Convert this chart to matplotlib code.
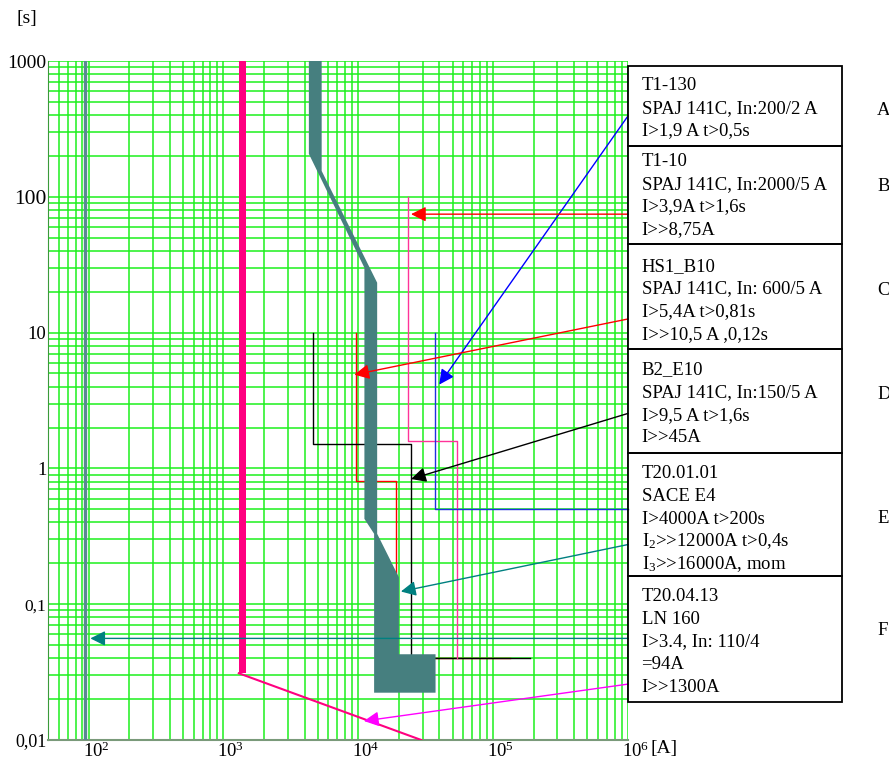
import matplotlib.pyplot as plt
import matplotlib.transforms as mtransforms
from matplotlib.patches import Rectangle
from matplotlib.ticker import LogLocator, NullFormatter, FixedLocator

plt.rcParams['font.family'] = 'Liberation Serif'
plt.rcParams['mathtext.fontset'] = 'custom'
plt.rcParams['mathtext.rm'] = 'Liberation Serif'
plt.rcParams['mathtext.it'] = 'Liberation Serif:italic'

# --- selectivity curves (current in A, time in s) ---
# A  T1-130
a_I = [37000, 37000, 1e6]
a_t = [10, 0.5, 0.5]
# B  T1-10
b_I = [23200, 23200, 53500, 53500]
b_t = [100, 1.6, 1.6, 0.04]
# C  HS1_B10
c_I = [9600, 9600, 18900, 18900, 134000]
c_t = [10, 0.81, 0.81, 0.04, 0.04]
# D  B2_E10
d_I = [4640, 4640, 24600, 24600, 188000]
d_t = [10, 1.5, 1.5, 0.04, 0.04]
# E  T20.01.01 SACE E4 tolerance band
e_I = [4300, 4300, 11100, 11100, 13100, 13100, 37400, 37400,
       20000, 20000, 13800, 13800, 5350, 5350]
e_t = [1000, 207, 30, 0.425, 0.33, 0.0223, 0.0223, 0.0428,
       0.0428, 0.158, 0.33, 23.3, 155, 1000]
# F  T20.04.13 LN 160
f_I1 = 94
f_I2 = 1300
f_t2 = 0.031
f_tail_I = [1300, 29300]
f_tail_t = [0.031, 0.01]

# pointers from the legend boxes: (I start, t start, I tip, t tip, colour)
arrows = [
    (1e6, 394, 39800, 4.14, '#0000ff'),
    (1e6, 74.5, 24600, 74.5, '#ff0000'),
    (1e6, 12.6, 9340, 4.9, '#ff0000'),
    (1e6, 2.54, 24600, 0.835, '#000000'),
    (1e6, 0.275, 20700, 0.124, '#008080'),
    (1e6, 0.056, 103, 0.056, '#008080'),
    (1e6, 0.0258, 11000, 0.0138, '#ff00ff'),
]

y_ticks = [1000, 100, 10, 1, 0.1, 0.01]
y_labels = ['1000', '100', '10', '1', '0,1', '0,01']
y_sizes = [14, 15.5, 13.5, 13.5, 12.5, 13]
x_ticks = [1e2, 1e3, 1e4, 1e5, 1e6]
x_labels = ['$10^{2}$', '$10^{3}$', '$10^{4}$', '$10^{5}$', '$10^{6}$']

letters = ['A', 'B', 'C', 'D', 'E', 'F']
box_text = [
    ['T1-130', 'SPAJ 141C, In:200/2 A', 'I>1,9 A t>0,5s'],
    ['T1-10', 'SPAJ 141C, In:2000/5 A', 'I>3,9A t>1,6s', 'I>>8,75A'],
    ['HS1_B10', 'SPAJ 141C, In: 600/5 A', 'I>5,4A t>0,81s', 'I>>10,5 A ,0,12s'],
    ['B2_E10', 'SPAJ 141C, In:150/5 A', 'I>9,5 A t>1,6s', 'I>>45A'],
    ['T20.01.01', 'SACE E4', 'I>4000A t>200s', 'I$_2$>>12000A t>0,4s',
     'I$_3$>>16000A, mom'],
    ['T20.04.13', 'LN 160', 'I>3.4, In: 110/4', '=94A', 'I>>1300A'],
]

W, H = 889, 761
fig = plt.figure(figsize=(W / 100, H / 100), dpi=100)
ax = fig.add_axes([48 / W, 1 - 740 / H, 580 / W, 679 / H])
ax.set_xscale('log')
ax.set_yscale('log')
ax.set_xlim(50, 1e6)
ax.set_ylim(0.01, 1000)

# green log paper
ax.xaxis.set_major_locator(FixedLocator(x_ticks))
ax.xaxis.set_minor_locator(LogLocator(base=10, subs=range(1, 10), numticks=30))
ax.yaxis.set_major_locator(FixedLocator(y_ticks))
ax.yaxis.set_minor_locator(LogLocator(base=10, subs=range(1, 10), numticks=30))
ax.xaxis.set_minor_formatter(NullFormatter())
ax.yaxis.set_minor_formatter(NullFormatter())
ax.grid(which='both', color='#1cf01c', lw=1.1, zorder=0)
ax.set_axisbelow(True)
ax.tick_params(which='both', length=0)
ax.set_xticklabels(x_labels, fontsize=13.5, ha='left')
ax.set_yticklabels(y_labels)
for lab, s in zip(ax.get_yticklabels(), y_sizes):
    lab.set_fontsize(s)
ax.tick_params(axis='y', pad=1)
ax.tick_params(axis='x', pad=1)
off = mtransforms.ScaledTranslation(-6 / 100, 0, fig.dpi_scale_trans)
for lab in ax.get_xticklabels():
    lab.set_transform(lab.get_transform() + off)

for side in ['top', 'right']:
    ax.spines[side].set_visible(False)
ax.spines['left'].set_color('#3a9a3a')
ax.spines['bottom'].set_color('#7a9a7a')
ax.spines['bottom'].set_linewidth(1.5)

# relay curves
ax.plot(c_I, c_t, color='#ff0000', lw=1.0, zorder=3)
ax.plot(d_I, d_t, color='#000000', lw=1.0, zorder=3)
ax.plot(b_I, b_t, color='#ff3399', lw=1.0, zorder=3)
ax.plot(a_I, a_t, color='#2030e0', lw=1.0, zorder=3, clip_on=False)

# breaker band
ax.fill(e_I, e_t, color='#467f7f', lw=0, zorder=4)

# fuse
ax.axvline(f_I1, color='#5a8a92', lw=2.4, zorder=4)
ax.fill_betweenx([f_t2, 1000], f_I2, f_I2 * 1.13, color='#ff0080', lw=0, zorder=4)
ax.plot(f_tail_I, f_tail_t, color='#ff0080', lw=1.5, zorder=4)

for x0, y0, x1, y1, col in arrows:
    ax.annotate('', xy=(x1, y1), xytext=(x0, y0),
                arrowprops=dict(arrowstyle='-|>,head_length=0.9,head_width=0.45',
                                color=col, lw=1.0, shrinkA=0, shrinkB=0,
                                mutation_scale=10),
                zorder=6, annotation_clip=False)

# legend boxes on the right
box_top = [65.7, 145.7, 244, 349, 453.3, 576, 701.7]
first_base = [90, 166, 270.7, 374.3, 478.3, 601]
letter_base = [115, 190.7, 295, 399.3, 522.7, 635]
step = 22.7
for i, lines in enumerate(box_text):
    y0, y1 = box_top[i], box_top[i + 1]
    fig.patches.append(Rectangle((628 / W, 1 - y1 / H), 214 / W, (y1 - y0) / H,
                                 transform=fig.transFigure, fill=False,
                                 edgecolor='black', lw=1.3))
    for j, s in enumerate(lines):
        fig.text(641.5 / W, 1 - (first_base[i] + j * step) / H, s,
                 fontsize=13.5, va='baseline', ha='left')
    fig.text(877 / W, 1 - letter_base[i] / H, letters[i],
             fontsize=13.5, va='baseline', ha='left')

fig.text(17 / W, 1 - 19 / H, '[s]', fontsize=14, va='center', ha='left')
fig.text(650 / W, 1 - 748 / H, '[A]', fontsize=14, va='center', ha='left')

fig.savefig('out.png', dpi=100)
